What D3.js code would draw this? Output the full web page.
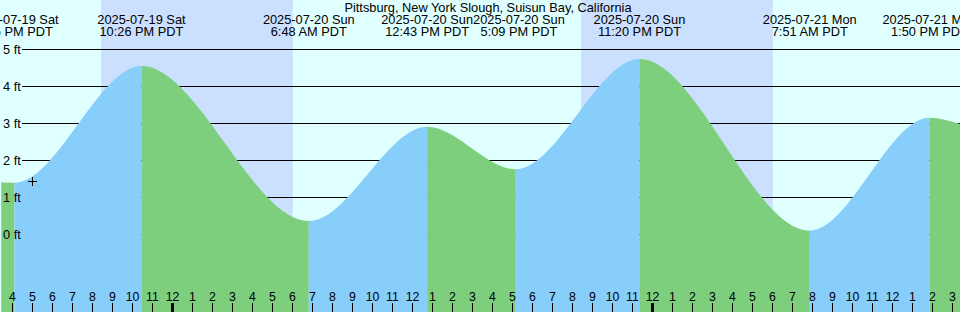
<!DOCTYPE html>
<html>
<head>
<meta charset="utf-8">
<script src="https://cdn.jsdelivr.net/npm/d3@7"></script>
<style>
  html, body { margin: 0; padding: 0; background: #fff; }
  svg { display: block; font-family: "Liberation Sans", Arial, sans-serif; }
</style>
</head>
<body>
<div id="chart"></div>
<script>
// tide extremes (local time, feet)
const extremeTimes = ['2025-07-19 16:05', '2025-07-19 22:26', '2025-07-20 06:48', '2025-07-20 12:43',
  '2025-07-20 17:09', '2025-07-20 23:20', '2025-07-21 07:51', '2025-07-21 13:50'];
const extremeLevels = [1.39, 4.55, 0.36, 2.91, 1.76, 4.74, 0.10, 3.15];
// level where the curve leaves the picture at each side
const edgeTimes = ['2025-07-19 15:25', '2025-07-21 15:25'];
const edgeLevels = [1.41, 2.97];
// night (sunset -> sunrise)
const nightStarts = ['2025-07-19 20:25', '2025-07-20 20:25'];
const nightEnds = ['2025-07-20 06:00', '2025-07-21 06:00'];
const feetTicks = [0, 1, 2, 3, 4, 5];
const nowTime = '2025-07-19 16:58';
const nowLevel = 1.45;
const title = 'Pittsburg, New York Slough, Suisun Bay, California';

const width = 960, height = 312;
const parse = d3.timeParse('%Y-%m-%d %H:%M');
const fmtDate = d3.timeFormat('%Y-%m-%d %a');
const fmtTime = d3.timeFormat('%-I:%M %p PDT');

const colors = { day: '#e0ffff', night: '#cbdfff', rise: '#87cefa', fall: '#7dcf7d' };

// 20 px per hour, midnight of Jul 20 near x = 172.8
const x = d3.scaleTime()
  .domain([parse('2025-07-20 00:00'), parse('2025-07-21 00:00')])
  .range([172.8, 652.8]);
const y = d3.scaleLinear().domain([0, 5]).range([234.3, 49.3]);

const svg = d3.select('#chart').append('svg')
  .attr('width', width)
  .attr('height', height);

svg.append('rect').attr('width', width).attr('height', height).attr('fill', colors.day);

svg.selectAll('rect.night')
  .data(nightStarts.map((s, i) => ({ s: parse(s), e: parse(nightEnds[i]) })))
  .enter().append('rect')
  .attr('class', 'night')
  .attr('x', d => x(d.s))
  .attr('width', d => x(d.e) - x(d.s))
  .attr('y', 0)
  .attr('height', height)
  .attr('fill', colors.night);

// grid lines under the water
svg.selectAll('line.grid')
  .data(feetTicks)
  .enter().append('line')
  .attr('class', 'grid')
  .attr('x1', 22).attr('x2', width)
  .attr('y1', d => Math.round(y(d)) + 0.5)
  .attr('y2', d => Math.round(y(d)) + 0.5)
  .attr('stroke', '#000')
  .attr('stroke-width', 1);

// tide curve points
const pts = [{ t: parse(edgeTimes[0]), v: edgeLevels[0] }]
  .concat(extremeTimes.map((t, i) => ({ t: parse(t), v: extremeLevels[i] })))
  .concat([{ t: parse(edgeTimes[1]), v: edgeLevels[1] }]);

const area = d3.area()
  .x(d => x(d.t))
  .y0(height)
  .y1(d => y(d.v))
  .curve(d3.curveMonotoneX);

const defs = svg.append('defs');
pts.slice(0, -1).forEach((p, i) => {
  const q = pts[i + 1];
  const id = 'seg' + i;
  defs.append('clipPath').attr('id', id)
    .append('rect')
    .attr('x', x(p.t)).attr('y', 0)
    .attr('width', x(q.t) - x(p.t))
    .attr('height', height);
  svg.append('path')
    .datum(pts)
    .attr('d', area)
    .attr('clip-path', `url(#${id})`)
    .attr('fill', q.v > p.v ? colors.rise : colors.fall);
});

// feet labels
svg.selectAll('text.ft')
  .data(feetTicks)
  .enter().append('text')
  .attr('class', 'ft')
  .attr('x', 3)
  .attr('y', d => y(d))
  .attr('dy', '0.35em')
  .attr('font-size', '12.8px')
  .text(d => d + ' ft');

// hour ticks
const hours = d3.timeHour.range(x.invert(0), x.invert(width));
const tickG = svg.append('g');
hours.forEach(h => {
  const px = Math.floor(x(h)) + 0.5;
  const midnight = h.getHours() === 0;
  tickG.append('line')
    .attr('x1', px).attr('x2', px)
    .attr('y1', 303).attr('y2', height)
    .attr('stroke', '#000')
    .attr('stroke-width', midnight ? 3 : 1);
  tickG.append('text')
    .attr('x', px)
    .attr('y', 301)
    .attr('text-anchor', 'middle')
    .attr('font-size', '12.3px')
    .text(d3.timeFormat('%-I')(h));
});

// now marker
const nx = Math.round(x(parse(nowTime))) + 0.5, ny = Math.round(y(nowLevel)) + 0.5;
svg.append('path')
  .attr('d', `M${nx - 4.5},${ny}H${nx + 4.5}M${nx},${ny - 4.5}V${ny + 4.5}`)
  .attr('stroke', '#000')
  .attr('stroke-width', 1);

// title
svg.append('text')
  .attr('x', 488).attr('y', 11.5)
  .attr('text-anchor', 'middle')
  .attr('font-size', '12.8px')
  .text(title);

// extreme labels, pushed right when they would overlap
let prevRight = -Infinity;
extremeTimes.forEach(t => {
  const d = parse(t);
  const g = svg.append('g');
  const l1 = g.append('text').attr('y', 24).attr('text-anchor', 'middle')
    .attr('font-size', '12.8px').text(fmtDate(d));
  const l2 = g.append('text').attr('y', 36).attr('text-anchor', 'middle')
    .attr('font-size', '12.8px').text(fmtTime(d));
  const w = Math.max(l1.node().getComputedTextLength(), l2.node().getComputedTextLength());
  let cx = x(d);
  if (cx - w / 2 < prevRight) cx = prevRight + w / 2;
  prevRight = cx + w / 2;
  l1.attr('x', cx);
  l2.attr('x', cx);
});
</script>
</body>
</html>
